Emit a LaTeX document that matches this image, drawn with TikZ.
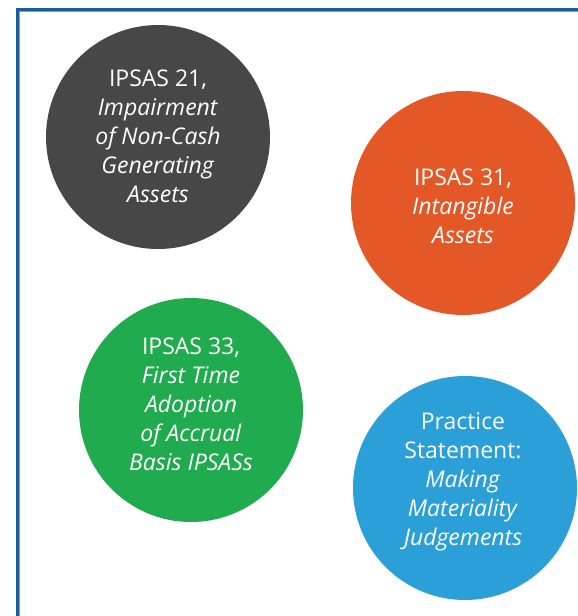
\documentclass[tikz,border=0pt]{standalone}
\usepackage{fontspec}
\setmainfont{Open Sans}
\definecolor{frameblue}{HTML}{1D5C9A}
\definecolor{framelight}{HTML}{6FA3D6}
\definecolor{cgrey}{HTML}{474747}
\definecolor{corange}{HTML}{E35826}
\definecolor{cgreen}{HTML}{1FAB4E}
\definecolor{cblue}{HTML}{2A9FD8}
\tikzset{
  disc/.style={circle, inner sep=0pt, minimum size=224pt, draw=none},
  label/.style={text=white, align=center, font=\fontsize{23}{29}\selectfont, inner sep=0pt}
}
\begin{document}
\begin{tikzpicture}[x=1pt,y=-1pt]
\clip (0,0) rectangle (578,616);
\fill[white] (0,0) rectangle (578,616);
\draw[frameblue, line width=2.6pt] (17.3,9.3) rectangle (640,680);
\draw[framelight, line width=0.8pt] (19.2,11.2) rectangle (640,680);
\node[disc, fill=cgrey] (c1) at (158,137) {};
\node[disc, fill=corange] (c2) at (463,203) {};
\node[disc, fill=cgreen] (c3) at (191,410) {};
\node[disc, fill=cblue] (c4) at (465,488) {};
\node[label] (t1) at (158,136) {IPSAS 21,\\\textit{Impairment}\\\textit{of Non-Cash}\\\textit{Generating}\\\textit{Assets}};
\node[label] (t2) at (463,206) {IPSAS 31,\\\textit{Intangible}\\\textit{Assets}};
\node[label] (t3) at (191,404) {IPSAS 33,\\\textit{First Time}\\\textit{Adoption}\\\textit{of Accrual}\\\textit{Basis IPSASs}};
\node[label] (t4) at (463,482) {Practice\\Statement:\\\textit{Making}\\\textit{Materiality}\\\textit{Judgements}};
\end{tikzpicture}
\end{document}
